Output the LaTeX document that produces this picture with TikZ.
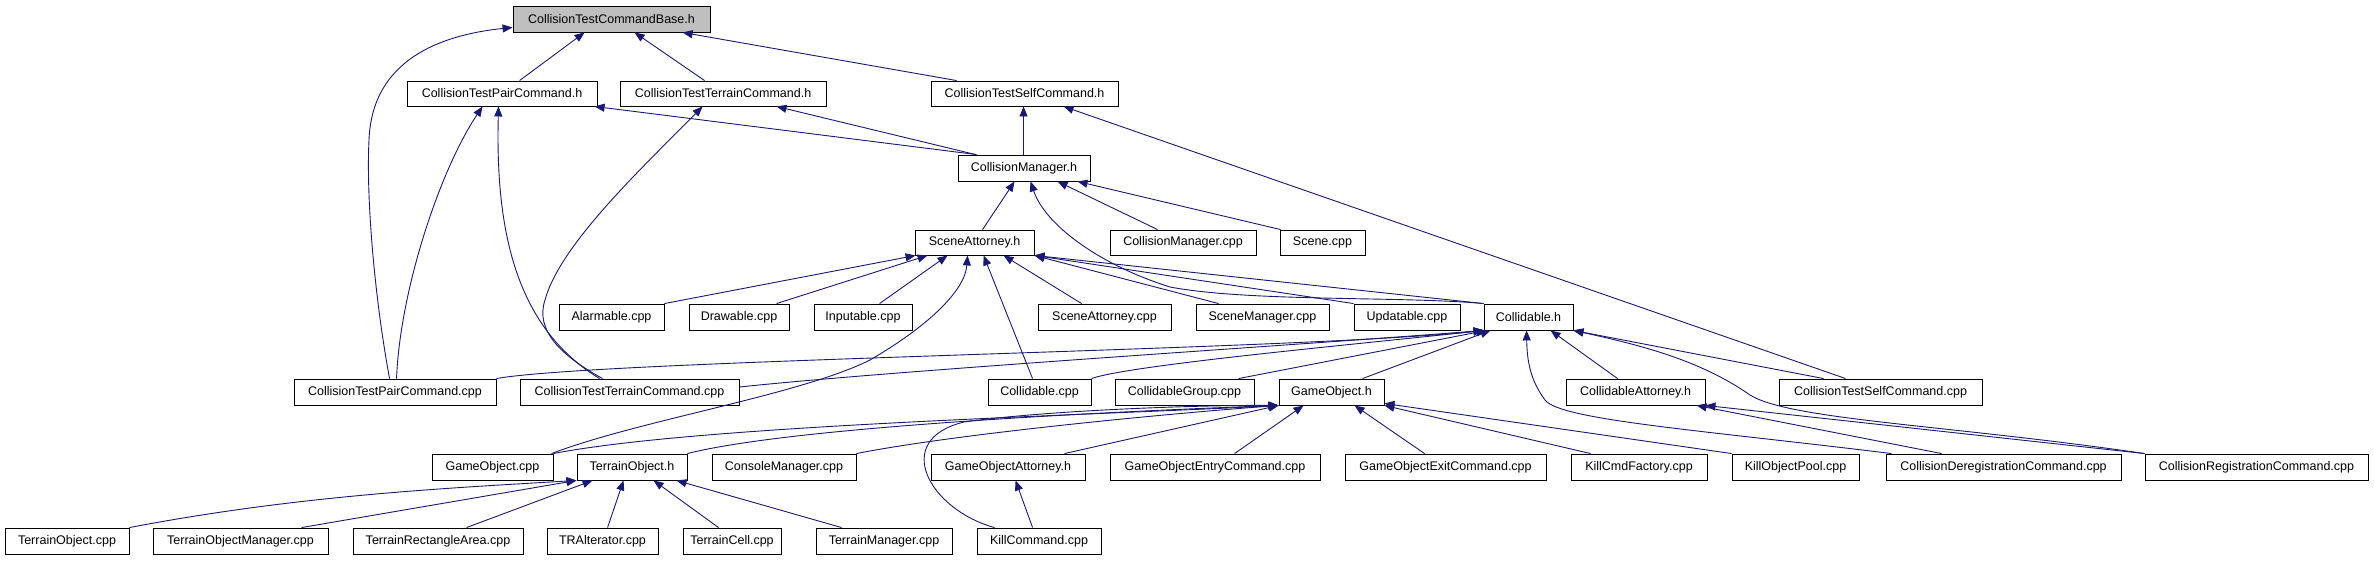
\documentclass[tikz,border=0pt]{standalone}
\usepackage{fontspec}
\setmainfont{Liberation Sans}
\usetikzlibrary{arrows.meta,shadows}
\definecolor{edgecol}{HTML}{191970}
\definecolor{rootfill}{HTML}{BFBFBF}
\newcommand\mbx[7][]{\node[box,#1,minimum width={#5-#3},minimum height={#6-#4}] (#2) at ({(#3+#5)/2},{(#4+#6)/2}) {#7};}
\begin{document}
\begin{tikzpicture}[x=1pt,y=-1pt,
  box/.style={draw=black,line width=0.9pt,fill=white,inner sep=0pt,align=center,
    font=\fontsize{12.5}{14}\selectfont,
    drop shadow={shadow xshift=1.2pt,shadow yshift=-1.2pt,fill=black!70,opacity=1}},
  dep/.style={draw=edgecol,line width=0.9pt,-{Triangle[length=10pt,width=8pt]}}]
\useasboundingbox[fill=white] (0,0) rectangle (2374,560);
% row 0
\mbx[fill=rootfill]{CTCB}{513}{6}{710}{32}{CollisionTestCommandBase.h}
% row 1
\mbx{CTPCh}{407}{81}{597}{106}{CollisionTestPairCommand.h}
\mbx{CTTCh}{620}{81}{826}{106}{CollisionTestTerrainCommand.h}
\mbx{CTSCh}{931}{81}{1118}{106}{CollisionTestSelfCommand.h}
% row 2
\mbx{CMh}{958}{155}{1090}{181}{CollisionManager.h}
% row 3
\mbx{SAh}{915}{230}{1034}{255}{SceneAttorney.h}
\mbx{CMcpp}{1110}{230}{1256}{255}{CollisionManager.cpp}
\mbx{Scenecpp}{1280}{230}{1365}{255}{Scene.cpp}
% row 4
\mbx{Alarm}{559}{304}{664}{330}{Alarmable.cpp}
\mbx{Draw}{689}{304}{789}{330}{Drawable.cpp}
\mbx{Input}{814}{304}{912}{330}{Inputable.cpp}
\mbx{SAcpp}{1038}{304}{1171}{330}{SceneAttorney.cpp}
\mbx{SMcpp}{1196}{304}{1329}{330}{SceneManager.cpp}
\mbx{Updcpp}{1354}{304}{1460}{330}{Updatable.cpp}
\mbx{Collh}{1484}{304}{1573}{330}{Collidable.h}
% row 5
\mbx{CTPCcpp}{294}{379}{496}{405}{CollisionTestPairCommand.cpp}
\mbx{CTTCcpp}{520}{379}{739}{405}{CollisionTestTerrainCommand.cpp}
\mbx{Collcpp}{988}{379}{1091}{405}{Collidable.cpp}
\mbx{CGcpp}{1115}{379}{1254}{405}{CollidableGroup.cpp}
\mbx{GOh}{1279}{379}{1384}{405}{GameObject.h}
\mbx{CAh}{1566}{379}{1705}{405}{CollidableAttorney.h}
\mbx{CTSCcpp}{1779}{379}{1982}{405}{CollisionTestSelfCommand.cpp}
% row 6
\mbx{GOcpp}{432}{454}{553}{480}{GameObject.cpp}
\mbx{TOh}{577}{454}{687}{480}{TerrainObject.h}
\mbx{ConsMgr}{712}{454}{856}{480}{ConsoleManager.cpp}
\mbx{GOAh}{931}{454}{1085}{480}{GameObjectAttorney.h}
\mbx{GOEntry}{1110}{454}{1320}{480}{GameObjectEntryCommand.cpp}
\mbx{GOExit}{1345}{454}{1546}{480}{GameObjectExitCommand.cpp}
\mbx{KCF}{1571}{454}{1707}{480}{KillCmdFactory.cpp}
\mbx{KOP}{1732}{454}{1859}{480}{KillObjectPool.cpp}
\mbx{CDereg}{1886}{454}{2121}{480}{CollisionDeregistrationCommand.cpp}
\mbx{CReg}{2145}{454}{2368}{480}{CollisionRegistrationCommand.cpp}
% row 7
\mbx{TOcpp}{5}{528}{129}{554}{TerrainObject.cpp}
\mbx{TOM}{153}{528}{328}{554}{TerrainObjectManager.cpp}
\mbx{TRA}{353}{528}{523}{554}{TerrainRectangleArea.cpp}
\mbx{TRAlt}{547}{528}{658}{554}{TRAlterator.cpp}
\mbx{TCell}{683}{528}{781}{554}{TerrainCell.cpp}
\mbx{TMgr}{816}{528}{952}{554}{TerrainManager.cpp}
\mbx{KCmd}{977}{528}{1101}{554}{KillCommand.cpp}
% ---- edges: CollisionTestCommandBase.h
\draw[dep] ([xshift=113pt]CTPCh.north west) -- ([xshift=72pt]CTCB.south west);
\draw[dep] ([xshift=85pt]CTTCh.north west) -- ([xshift=122pt]CTCB.south west);
\draw[dep] ([xshift=26pt]CTSCh.north west) -- ([xshift=170pt]CTCB.south west);
\draw[dep] ([xshift=96pt]CTPCcpp.north west) .. controls (375,300) and (366,200) .. (369,140) .. controls (372,60) and (440,35) .. ([yshift=5pt]CTCB.south west);
% CollisionTestPairCommand.h
\draw[dep] ([xshift=19pt]CMh.north west) -- ([xshift=188pt]CTPCh.south west);
\draw[dep] ([xshift=103pt]CTPCcpp.north west) .. controls (400,290) and (440,170) .. ([xshift=76pt]CTPCh.south west);
\draw[dep] ([xshift=80pt]CTTCcpp.north west) .. controls (520,330) and (495,240) .. ([xshift=92pt]CTPCh.south west);
% CollisionTestTerrainCommand.h
\draw[dep] ([xshift=18pt]CMh.north west) -- ([xshift=157pt]CTTCh.south west);
\draw[dep] ([xshift=83pt]CTTCcpp.north west) .. controls (560,355) and (535,330) .. (545,300) .. controls (560,245) and (640,170) .. ([xshift=83pt]CTTCh.south west);
% CollisionTestSelfCommand.h
\draw[dep] ([xshift=66pt]CMh.north west) -- ([xshift=93pt]CTSCh.south west);
\draw[dep] ([xshift=67pt]CTSCcpp.north west) -- ([xshift=133pt]CTSCh.south west);
% CollisionManager.h
\draw[dep] ([xshift=68pt]SAh.north west) -- ([xshift=57pt]CMh.south west);
\draw[dep] (Collh.north west) .. controls (1400,296) and (1250,302) .. (1170,287) .. controls (1100,265) and (1045,225) .. ([xshift=73pt]CMh.south west);
\draw[dep] ([xshift=48pt]CMcpp.north west) -- ([xshift=100pt]CMh.south west);
\draw[dep] ([xshift=1pt]Scenecpp.north west) -- ([xshift=120pt]CMh.south west);
% SceneAttorney.h
\draw[dep] (Alarm.north east) -- ([xshift=1pt]SAh.south west);
\draw[dep] ([xshift=88pt]Draw.north west) -- ([xshift=13pt]SAh.south west);
\draw[dep] ([xshift=66pt]Input.north west) -- ([xshift=33pt]SAh.south west);
\draw[dep] ([xshift=-2pt]GOcpp.north east) .. controls (640,420) and (800,395) .. (870,360) .. controls (930,325) and (965,290) .. ([xshift=53pt]SAh.south west);
\draw[dep] ([xshift=45pt]Collcpp.north west) -- ([xshift=69pt]SAh.south west);
\draw[dep] ([xshift=44pt]SAcpp.north west) -- ([xshift=89pt]SAh.south west);
\draw[dep] ([xshift=23pt]SMcpp.north west) -- (SAh.south east);
\draw[dep] (Updcpp.north west) -- (SAh.south east);
\draw[dep] (Collh.north west) -- (SAh.south east);
% Collidable.h
\draw[dep] (CTPCcpp.north east) .. controls (600,360) and (1300,350) .. (Collh.south west);
\draw[dep] ([yshift=5pt]CTTCcpp.east) .. controls (900,370) and (1300,345) .. (Collh.south west);
\draw[dep] (Collcpp.north east) .. controls (1130,365) and (1350,345) .. (Collh.south west);
\draw[dep] ([xshift=124pt]CGcpp.north west) -- ([xshift=3pt]Collh.south west);
\draw[dep] ([xshift=84pt]GOh.north west) -- ([xshift=7pt]Collh.south west);
\draw[dep] ([xshift=52pt]CAh.north west) -- ([xshift=67pt]Collh.south west);
\draw[dep] ([xshift=6pt]CDereg.north west) .. controls (1700,430) and (1560,420) .. (1545,400) .. controls (1530,380) and (1527,360) .. ([xshift=43pt]Collh.south west);
\draw[dep] ([xshift=45pt]CTSCcpp.north west) -- (Collh.south east);
\draw[dep] (CReg.north west) .. controls (1950,425) and (1790,420) .. (1750,395) .. controls (1700,360) and (1640,345) .. (Collh.south east);
% GameObject.h
\draw[dep] (GOcpp.north east) .. controls (700,425) and (1100,415) .. (GOh.south west);
\draw[dep] (TOh.north east) .. controls (800,425) and (1150,410) .. (GOh.south west);
\draw[dep] (ConsMgr.north east) .. controls (950,435) and (1150,415) .. (GOh.south west);
\draw[dep] ([xshift=18pt]KCmd.north west) .. controls (930,510) and (890,440) .. (964,422) .. controls (1050,410) and (1200,405) .. (GOh.south west);
\draw[dep] ([xshift=134pt]GOAh.north west) -- (GOh.south west);
\draw[dep] ([xshift=125pt]GOEntry.north west) -- ([xshift=25pt]GOh.south west);
\draw[dep] ([xshift=80pt]GOExit.north west) -- ([xshift=76pt]GOh.south west);
\draw[dep] ([xshift=20pt]KCF.north west) -- (GOh.south east);
\draw[dep] (KOP.north west) -- ([yshift=2pt]GOh.south east);
% CollidableAttorney.h
\draw[dep] ([xshift=56pt]CDereg.north west) -- ([xshift=131pt]CAh.south west);
\draw[dep] (CReg.north west) -- (CAh.south east);
% TerrainObject.h
\draw[dep] (TOcpp.north east) .. controls (300,495) and (450,488) .. (TOh.south west);
\draw[dep] ([xshift=149pt]TOM.north west) -- (TOh.south west);
\draw[dep] ([xshift=114pt]TRA.north west) -- ([xshift=16pt]TOh.south west);
\draw[dep] ([xshift=61pt]TRAlt.north west) -- ([xshift=47pt]TOh.south west);
\draw[dep] ([xshift=36pt]TCell.north west) -- ([xshift=77pt]TOh.south west);
\draw[dep] ([xshift=26pt]TMgr.north west) -- ([xshift=100pt]TOh.south west);
% GameObjectAttorney.h
\draw[dep] ([xshift=56pt]KCmd.north west) -- ([xshift=85pt]GOAh.south west);
\end{tikzpicture}
\end{document}
